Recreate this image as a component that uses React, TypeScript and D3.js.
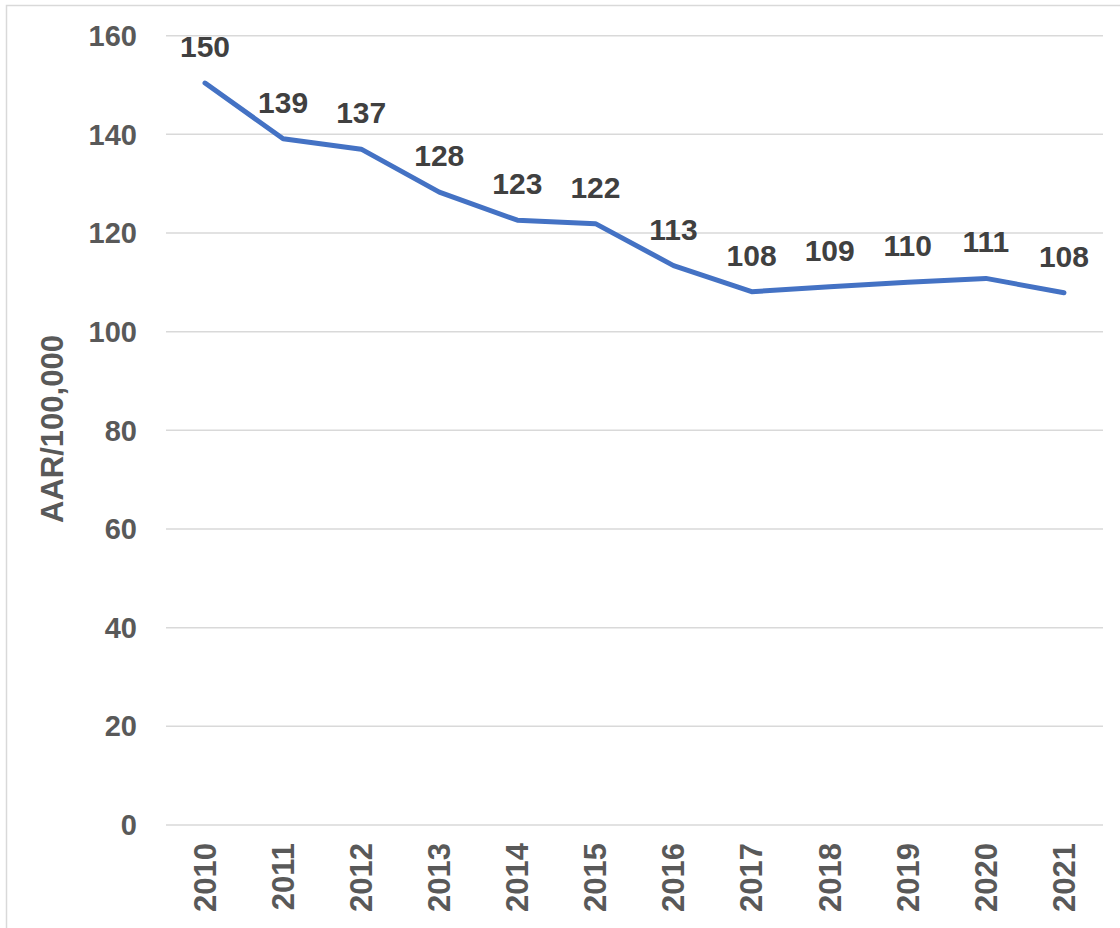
import React from "react";
import * as d3 from "d3";

const years = ["2010","2011","2012","2013","2014","2015","2016","2017","2018","2019","2020","2021"];
const rates = [150.4, 139.1, 137.0, 128.3, 122.6, 121.9, 113.4, 108.1, 109.1, 110.0, 110.8, 107.9];
const labels = ["150","139","137","128","123","122","113","108","109","110","111","108"];
const yTicks = [0, 20, 40, 60, 80, 100, 120, 140, 160];
const yTitle = "AAR/100,000";

const W = 1120, H = 928;
const left = 166, right = 1103, top = 35.7, bottom = 825;
const font = "'Liberation Sans', Arial, sans-serif";

export default function App() {
  const x = d3.scaleBand<string>().domain(years).range([left, right]);
  const y = d3.scaleLinear().domain([0, 160]).range([bottom, top]);
  const cx = (d: string) => (x(d) as number) + x.bandwidth() / 2;
  const line = d3.line<number>().x((_, i) => cx(years[i])).y((v) => y(v));

  return (
    <svg width={W} height={H} style={{ position: "absolute", left: 0, top: 0, background: "#fff" }}>
      <rect x={6.5} y={5.5} width={1300} height={1300} fill="#fff" stroke="#d9d9d9" strokeWidth={1.5} />
      {yTicks.map((t) => (
        <g key={t}>
          <line x1={left} x2={right} y1={y(t)} y2={y(t)} stroke="#d9d9d9" strokeWidth={1.5} />
          <text x={137} y={y(t)} dy="0.35em" textAnchor="end" fontFamily={font} fontWeight="bold" fontSize={29} fill="#595959">
            {t}
          </text>
        </g>
      ))}
      {years.map((yr) => (
        <text key={yr} transform={`translate(${cx(yr)},843) rotate(-90)`} dy="0.35em" textAnchor="end" fontFamily={font} fontWeight="bold" fontSize={31} fill="#595959">
          {yr}
        </text>
      ))}
      <text transform={`translate(52,429) rotate(-90)`} dy="0.35em" textAnchor="middle" fontFamily={font} fontWeight="bold" fontSize={31} fill="#595959">
        {yTitle}
      </text>
      <path d={line(rates) || ""} fill="none" stroke="#4472C4" strokeWidth={5} strokeLinejoin="round" strokeLinecap="round" />
      {rates.map((v, i) => (
        <text key={i} x={cx(years[i])} y={y(v) - 26} textAnchor="middle" fontFamily={font} fontWeight="bold" fontSize={30} fill="#404040">
          {labels[i]}
        </text>
      ))}
    </svg>
  );
}
